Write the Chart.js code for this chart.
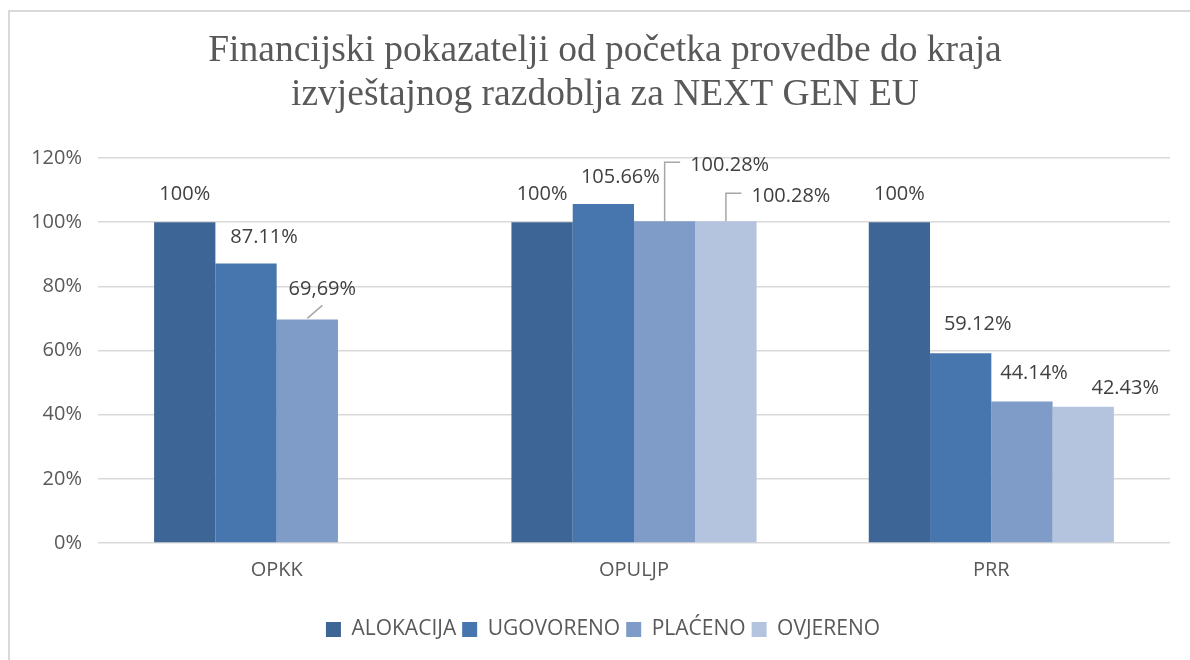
<!DOCTYPE html>
<html>
<head>
<meta charset="utf-8">
<script src="https://cdn.jsdelivr.net/npm/chart.js@4.4.1/dist/chart.umd.min.js"></script>
<style>
    body { margin: 0; background: #fff; }
    #frame {
        position: absolute; left: 8px; top: 10px;
        width: 1180px; height: 648px;
        border-left: 2px solid #d9d9d9; border-top: 2px solid #d9d9d9;
    }
</style>
</head>
<body>
<div id="frame"><canvas id="chart" width="1180" height="648"></canvas></div>
<script>
const categories = ['OPKK', 'OPULJP', 'PRR'];
const seriesNames = ['ALOKACIJA', 'UGOVORENO', 'PLAĆENO', 'OVJERENO'];
const alokacija = [100, 100, 100];
const ugovoreno = [87.11, 105.66, 59.12];
const placeno = [69.69, 100.28, 44.14];
const ovjereno = [null, 100.28, 42.43];
const yTicks = [0, 20, 40, 60, 80, 100, 120];
// OPKK placeno is written with a decimal comma in the original
const commaLabels = [[2, 0]];

const colors = ['#3d6595', '#4775ae', '#7f9cc8', '#b4c3de'];
const values = [alokacija, ugovoreno, placeno, ovjereno];

// label position relative to bar (x centre, top), and leader style
const labelPos = [
    [[0, -22], [0, -22], [0, -22]],
    [[18, -21], [17, -21], [17, -23]],
    [[15, -24, 'diag'], [65, -50, 'elbow'], [12, -22]],
    [null, [65, -19, 'elbow'], [42, -13]]
];

function fmt(v, ds, i) {
    if (v === 100) return '100%';
    let s = v.toFixed(2);
    if (commaLabels.some(c => c[0] === ds && c[1] === i)) s = s.replace('.', ',');
    return s + '%';
}

const labelPlugin = {
    id: 'barLabels',
    afterLayout(chart) {
        // title and legend sit a little right of the canvas centre in the original
        if (chart.titleBlock) chart.titleBlock.left += 30;
        if (chart.legend) {
            chart.legend.left += 13;
            chart.legend.right += 13;
        }
    },
    afterDatasetsDraw(chart) {
        const ctx = chart.ctx;
        ctx.save();
        ctx.font = '20px "Open Sans"';
        ctx.fillStyle = '#404040';
        ctx.textAlign = 'center';
        ctx.textBaseline = 'alphabetic';
        chart.data.datasets.forEach((ds, d) => {
            chart.getDatasetMeta(d).data.forEach((bar, i) => {
                const v = ds.data[i];
                if (v == null) return;
                const p = labelPos[d][i];
                const text = fmt(v, d, i);
                const lx = bar.x + p[0], ly = bar.y + p[1];
                ctx.fillText(text, lx, ly);
                if (p[2]) {
                    ctx.strokeStyle = '#a6a6a6';
                    ctx.lineWidth = 1.5;
                    ctx.beginPath();
                    if (p[2] === 'diag') {
                        ctx.moveTo(bar.x, bar.y - 1);
                        ctx.lineTo(lx, ly + 10);
                    } else {
                        const w = ctx.measureText(text).width;
                        ctx.moveTo(bar.x, bar.y);
                        ctx.lineTo(bar.x, ly - 9);
                        ctx.lineTo(lx - w / 2 - 10, ly - 9);
                    }
                    ctx.stroke();
                }
            });
        });
        ctx.restore();
    }
};

const ctx = document.getElementById('chart').getContext('2d');
new Chart(ctx, {
    type: 'bar',
    data: {
        labels: categories,
        datasets: seriesNames.map((name, k) => ({
            label: name,
            data: values[k],
            backgroundColor: colors[k],
            categoryPercentage: 0.686,
            barPercentage: 1
        }))
    },
    options: {
        responsive: false,
        animation: false,
        layout: { padding: { left: 0, right: 20, top: 0, bottom: 10 } },
        plugins: {
            title: {
                display: true,
                text: ['Financijski pokazatelji od početka provedbe do kraja',
                       'izvještajnog razdoblja za NEXT GEN EU'],
                color: '#595959',
                font: { family: '"Liberation Serif", "Times New Roman", serif', size: 37.5, weight: 'normal', lineHeight: 44 / 37.5 },
                padding: { top: 17, bottom: 41 }
            },
            legend: {
                position: 'bottom',
                labels: {
                    color: '#595959',
                    font: { family: '"Open Sans"', size: 21 },
                    boxWidth: 15,
                    boxHeight: 15,
                    padding: 6
                }
            },
            tooltip: { enabled: false }
        },
        scales: {
            x: {
                grid: { display: false },
                border: { display: false },
                ticks: { color: '#595959', font: { family: '"Open Sans"', size: 20 }, padding: 7 },
                afterFit: s => { s.height = 70; }
            },
            y: {
                min: 0,
                max: 120,
                afterBuildTicks: s => { s.ticks = yTicks.map(v => ({ value: v })); },
                grid: { color: '#d9d9d9', lineWidth: 1.5, drawTicks: false },
                border: { display: false },
                ticks: {
                    color: '#595959',
                    font: { family: '"Open Sans"', size: 20 },
                    padding: 16,
                    callback: v => v + '%'
                },
                afterFit: s => { s.width = 88; }
            }
        }
    },
    plugins: [labelPlugin]
});
</script>
</body>
</html>
